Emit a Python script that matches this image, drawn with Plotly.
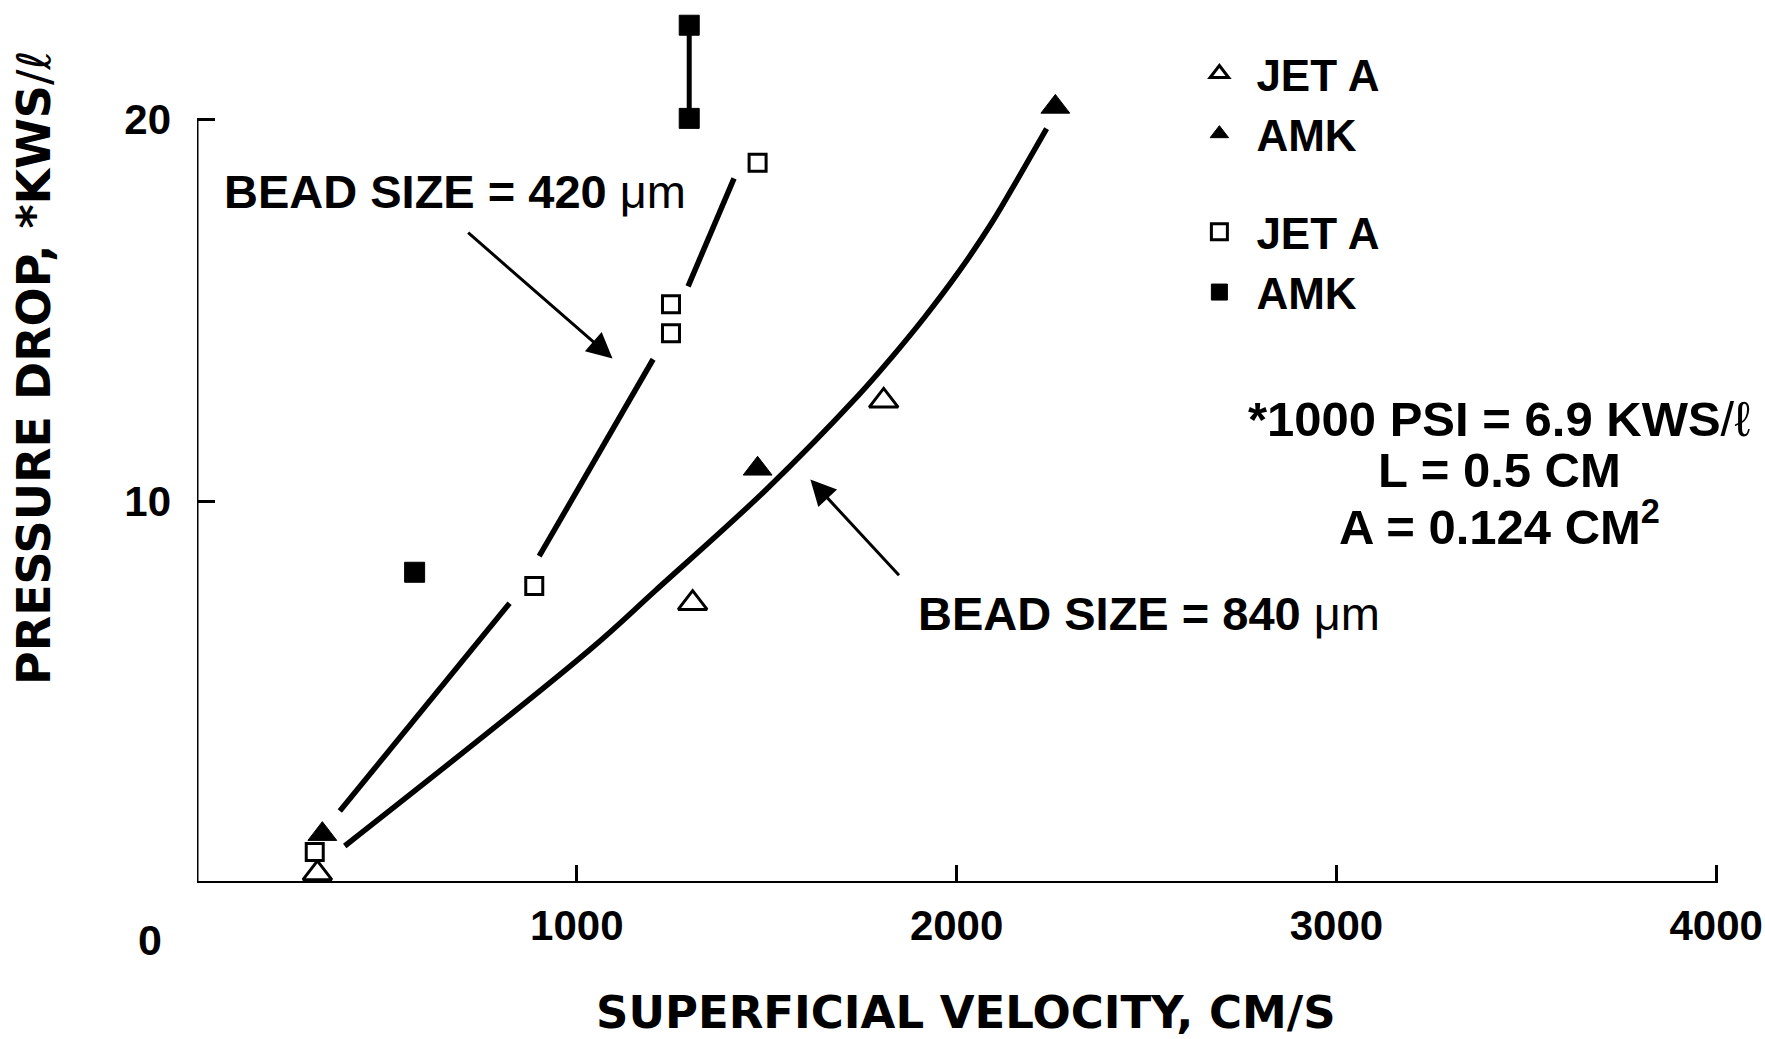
import plotly.graph_objects as go

# Superficial velocity (cm/s) vs. pressure drop (kWs/l) readings
jet_a_840_v = [317, 1305, 1808]
jet_a_840_dp = [0.25, 7.33, 12.63]
amk_840_v = [330, 1476, 2260]
amk_840_dp = [1.28, 10.85, 20.33]
jet_a_420_v = [310, 888, 1248, 1248, 1476]
jet_a_420_dp = [0.81, 7.78, 14.40, 15.16, 18.87]
amk_420_v = [573, 1296, 1296]
amk_420_dp = [8.14, 20.03, 22.47]

# Hand-faired curves, broken where they pass the symbols
fit_420_v = [376, 823, None, 901, 1201, None, 1293, 1414]
fit_420_dp = [1.885, 7.33, None, 8.56, 13.72, None, 15.63, 18.46]
fit_840_v = [389, 1033, 1208, 1497, 1742, 1830, 1918, 2005, 2093, 2163, 2237]
fit_840_dp = [0.97, 6.10, 7.67, 10.29, 12.78, 13.78, 14.85, 16.00, 17.30, 18.48, 19.76]

x_ticks = [1000, 2000, 3000, 4000]
x_tick_labels = ["1000", "2000", "3000", "4000"]
y_ticks = [10, 20]

BOLD = "Liberation Sans, Arial, Helvetica, sans-serif"
WIDE = "DejaVu Sans, Verdana, sans-serif"
INK = "black"

fig = go.Figure()

# faired curves
fig.add_trace(go.Scatter(x=fit_420_v, y=fit_420_dp, mode="lines",
                         line=dict(color=INK, width=5.5), showlegend=False,
                         hoverinfo="skip", cliponaxis=False))
fig.add_trace(go.Scatter(x=fit_840_v, y=fit_840_dp, mode="lines",
                         line=dict(color=INK, width=5.5, shape="spline", smoothing=1.0),
                         showlegend=False, hoverinfo="skip", cliponaxis=False))

# scatter band for the two repeated AMK runs
fig.add_trace(go.Scatter(x=amk_420_v[1:], y=amk_420_dp[1:], mode="lines",
                         line=dict(color=INK, width=5), showlegend=False,
                         hoverinfo="skip", cliponaxis=False))

open_line = dict(color=INK, width=3)
fig.add_trace(go.Scatter(x=jet_a_840_v, y=jet_a_840_dp, mode="markers", name="JET A",
                         legendgroup="840",
                         marker=dict(symbol="triangle-up", size=25, color="white", line=open_line),
                         cliponaxis=False))
fig.add_trace(go.Scatter(x=amk_840_v, y=amk_840_dp, mode="markers", name="AMK",
                         legendgroup="840",
                         marker=dict(symbol="triangle-up", size=25, color=INK, line=dict(color=INK, width=1)),
                         cliponaxis=False))
fig.add_trace(go.Scatter(x=jet_a_420_v, y=jet_a_420_dp, mode="markers", name="JET A",
                         legendgroup="420",
                         marker=dict(symbol="square", size=17, color="white", line=open_line),
                         cliponaxis=False))
fig.add_trace(go.Scatter(x=amk_420_v, y=amk_420_dp, mode="markers", name="AMK",
                         legendgroup="420",
                         marker=dict(symbol="square", size=20, color=INK, line=dict(color=INK, width=1)),
                         cliponaxis=False))

# axis lines: x runs to the last tick, y stops at the top tick
fig.add_shape(type="line", x0=0, x1=0, y0=0, y1=y_ticks[-1], xref="x", yref="y",
              line=dict(color=INK, width=3), layer="below")
fig.add_shape(type="line", x0=0, x1=x_ticks[-1], y0=0, y1=0, xref="x", yref="y",
              line=dict(color=INK, width=4), layer="below")

txt = dict(family=BOLD, size=47, color=INK, weight="bold")
note_font = dict(family=BOLD, size=49, color=INK, weight="bold")
ann = []
# bead-size labels and leaders
ann.append(dict(x=66, y=18.12, xref="x", yref="y", xanchor="left", yanchor="middle",
                text="BEAD SIZE = 420 <span style='font-weight:normal'>μm</span>",
                showarrow=False, font=txt))
ann.append(dict(x=1892, y=7.07, xref="x", yref="y", xanchor="left", yanchor="middle",
                text="BEAD SIZE = 840 <span style='font-weight:normal'>μm</span>",
                showarrow=False, font=txt))
ann.append(dict(x=1094, y=13.74, ax=710, ay=17.07, xref="x", yref="y", axref="x", ayref="y",
                text="", showarrow=True, arrowhead=2, arrowsize=1.7, arrowwidth=3,
                arrowcolor=INK))
ann.append(dict(x=1615, y=10.57, ax=1852, ay=8.02, xref="x", yref="y", axref="x", ayref="y",
                text="", showarrow=True, arrowhead=2, arrowsize=1.7, arrowwidth=3,
                arrowcolor=INK))
# conversion and test-section notes
notes = ["*1000 PSI = 6.9 KWS<span style='font-weight:normal'>/ℓ</span>",
         "L = 0.5 CM",
         "A = 0.124 CM<sup>2</sup>"]
for line, yp in zip(notes, [0.5285, 0.4704, 0.410]):
    ann.append(dict(x=0.855, y=yp, xref="paper", yref="paper", xanchor="center",
                    yanchor="middle", text=line, showarrow=False, font=note_font))
# shared origin label
ann.append(dict(x=0, y=0, xref="x", yref="y", xshift=-47, yshift=-57, text="0",
                showarrow=False, font=dict(family=BOLD, size=43, color=INK, weight="bold")))
# axis titles
ann.append(dict(x=0.505, y=-0.148, xref="paper", yref="paper", xanchor="center",
                yanchor="middle", text="SUPERFICIAL VELOCITY, CM/S", showarrow=False,
                font=dict(family=WIDE, size=45, color=INK, weight="bold")))
ann.append(dict(x=-0.107, y=0.5866, xref="paper", yref="paper", xanchor="center",
                yanchor="middle", textangle=-90,
                text="PRESSURE DROP, *KWS<span style='font-weight:normal'>/ℓ</span>",
                showarrow=False, font=dict(family=WIDE, size=46, color=INK, weight="bold")))

tickfont = dict(family=BOLD, size=42, color=INK, weight="bold")
fig.update_layout(
    width=1765, height=1039,
    margin=dict(l=197, r=45, t=5, b=156, autoexpand=False),
    paper_bgcolor="white", plot_bgcolor="white",
    annotations=ann,
    showlegend=True,
    legend=dict(x=0.647, y=0.962, xanchor="left", yanchor="top",
                font=dict(family=BOLD, size=44, color=INK, weight="bold"),
                tracegroupgap=38, itemwidth=64, bgcolor="rgba(0,0,0,0)"),
    xaxis=dict(range=[0, 4010], tickvals=x_ticks, ticktext=x_tick_labels,
               ticks="inside", ticklen=18, tickwidth=3,
               tickcolor=INK, showline=False, automargin=False,
               showgrid=False, zeroline=False, tickfont=tickfont, ticklabelstandoff=14,
               ticklabeloverflow="allow"),
    yaxis=dict(range=[0, 23], tickvals=y_ticks, ticks="inside", ticklen=18, tickwidth=3,
               tickcolor=INK, showline=False, showgrid=False, zeroline=False,
               automargin=False, tickfont=tickfont, ticklabelstandoff=25),
)

fig.write_html("out.html", config={"displayModeBar": False})
